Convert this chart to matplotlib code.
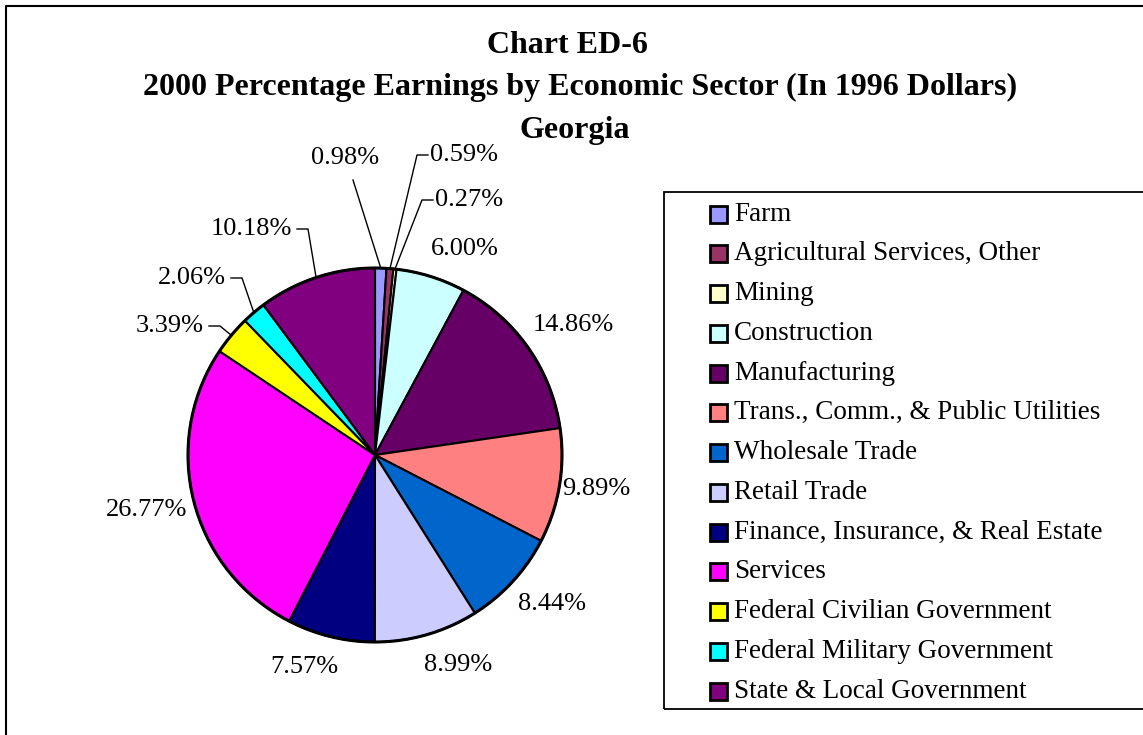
import numpy as np
import matplotlib
matplotlib.use('Agg')
import matplotlib.pyplot as plt
from matplotlib.patches import Rectangle

plt.rcParams['font.family'] = ['Liberation Serif', 'DejaVu Serif']

sectors = ['Farm', 'Agricultural Services, Other', 'Mining', 'Construction',
           'Manufacturing', 'Trans., Comm., & Public Utilities', 'Wholesale Trade',
           'Retail Trade', 'Finance, Insurance, & Real Estate', 'Services',
           'Federal Civilian Government', 'Federal Military Government',
           'State & Local Government']
shares = [0.98, 0.59, 0.27, 6.00, 14.86, 9.89, 8.44, 8.99, 7.57, 26.77, 3.39, 2.06, 10.18]
colors = ['#9999FF', '#993366', '#FFFFCC', '#CCFFFF', '#660066', '#FF8080', '#0066CC',
          '#CCCCFF', '#000080', '#FF00FF', '#FFFF00', '#00FFFF', '#800080']

W, H = 1143, 735
fig = plt.figure(figsize=(W / 100, H / 100), dpi=100)
ax = fig.add_axes([0, 0, 1, 1])

cx, cy, R = 375, 280, 187
wedges, _ = ax.pie(shares, colors=colors, startangle=90, counterclock=False,
                   center=(cx, cy), radius=R, frame=True,
                   wedgeprops=dict(edgecolor='black', linewidth=1.5))
ax.set_xlim(0, W)
ax.set_ylim(0, H)
ax.axis('off')
ax.add_patch(plt.Circle((cx, cy), R, fill=False, edgecolor='black', linewidth=2.2, zorder=5))

LFS = 19
# label placement: leader-line labels get (elbow dx, dy, side), the rest are nudged
leaders = {0: None, 1: (42, 300, 'r'), 2: (47, 255, 'r'),
           10: (-155, 129, 'l'), 11: (-133, 177, 'l'), 12: (-67, 226, 'l')}
nudge = {3: (20, 8), 4: (7, 11), 5: (-9, 0), 6: (5, -8), 7: (18, -10),
         8: (-16, -10), 9: (-3, -3)}

cum = np.cumsum([0] + shares[:-1])
for i, v in enumerate(shares):
    th = np.deg2rad((cum[i] + v / 2) * 3.6)
    s, c = np.sin(th), np.cos(th)
    ex, ey = cx + R * s, cy + R * c
    txt = '%.2f%%' % v
    if i in leaders:
        if leaders[i] is None:
            ax.plot([ex, cx - 22], [ey, cy + 275], color='black', lw=1)
            ax.text(cx - 30, cy + 297, txt, fontsize=LFS, ha='center', va='center')
            continue
        bx, by, side = leaders[i]
        bx, by = cx + bx, cy + by
        d = 11 if side == 'r' else -11
        ax.plot([ex, bx, bx + d], [ey, by, by], color='black', lw=1)
        ax.text(bx + d + (2 if side == 'r' else -5), by, txt, fontsize=LFS,
                ha='left' if side == 'r' else 'right', va='center')
    else:
        px = cx + (R + 10) * s + 36 * s + nudge[i][0]
        py = cy + (R + 10) * c + 11 * c + nudge[i][1]
        ax.text(px, py, txt, fontsize=LFS, ha='center', va='center')

# titles
ax.text(567, H - 45, 'Chart ED-6', fontsize=23, fontweight='bold', ha='center', va='center')
ax.text(580, H - 87, '2000 Percentage Earnings by Economic Sector (In 1996 Dollars)',
        fontsize=23, fontweight='bold', ha='center', va='center')
ax.text(575, H - 130, 'Georgia', fontsize=23, fontweight='bold', ha='center', va='center')

# outer border
ax.plot([6, 6, W + 5], [-5, H - 6, H - 6], color='black', lw=1.5, clip_on=False)

# legend box
ax.add_patch(Rectangle((664, H - 709), 600, 517, fill=False, edgecolor='black', lw=1.3))
for k, (name, col) in enumerate(zip(sectors, colors)):
    y = H - 214 - k * 39.75
    ax.add_patch(Rectangle((710, y - 8.5), 17, 17, facecolor=col, edgecolor='black', lw=2))
    ax.text(734, y, name, fontsize=19.5, ha='left', va='center')

fig.savefig('out.png', dpi=100)
